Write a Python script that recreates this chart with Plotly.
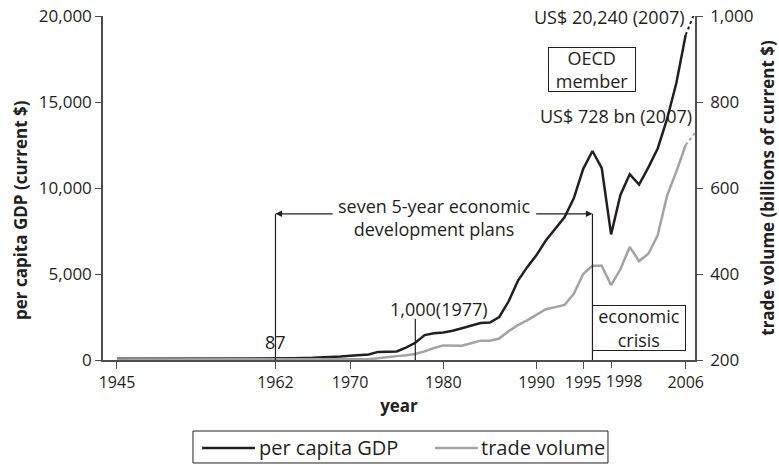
import plotly.graph_objects as go

# Per capita GDP (current $) and trade volume (billions of current $), 1945-2006
years = [1945, 1950, 1955, 1960, 1962, 1964, 1966, 1967, 1968, 1969,
         1970, 1971, 1972, 1973, 1974, 1975, 1976, 1977, 1978, 1979,
         1980, 1981, 1982, 1983, 1984, 1985, 1986, 1987, 1988, 1989,
         1990, 1991, 1992, 1993, 1994, 1995, 1996, 1997, 1998, 1999,
         2000, 2001, 2002, 2003, 2004, 2005, 2006]
gdp = [70, 70, 70, 80, 87, 100, 125, 140, 165, 200,
       250, 285, 320, 470, 490, 500, 720, 1000, 1450, 1550,
       1600, 1700, 1850, 2000, 2150, 2180, 2500, 3400, 4600, 5400,
       6100, 6950, 7600, 8300, 9400, 11100, 12150, 11150, 7300, 9600,
       10800, 10200, 11200, 12300, 14000, 16100, 18900]
trade = [201, 201, 201, 201, 201, 201, 201, 201, 201, 201,
         201, 201, 202, 204, 207, 209, 211, 214, 220, 228,
         234, 234, 233, 239, 245, 245, 250, 267, 281, 292,
         305, 318, 323, 328, 354, 400, 419, 419, 374, 411,
         463, 430, 447, 490, 582, 638, 700]

# 2007 values shown as dotted extensions
year_2007 = 2007
gdp_2007 = 20240
trade_2007 = 728

x_ticks = [1945, 1962, 1970, 1980, 1990, 1995, 1998, 2006]
gdp_ticks = [0, 5000, 10000, 15000, 20000]
trade_ticks = [200, 400, 600, 800, 1000]

gdp_name = "per capita GDP"
trade_name = "trade volume"

INK = "#231f20"
GREY = "#a3a3a3"
AXIS = "#4d4d4d"
FONT = "Open Sans"

plan_start, plan_end = 1962, 1996
plan_level = 8500

# the 1998 label sits on its own overlaid axis so it can be nudged clear of 1995
shifted_year = 1998
main_ticks = [t for t in x_ticks if t != shifted_year]

fig = go.Figure()

fig.add_trace(go.Scatter(x=years, y=trade, name=trade_name, xaxis="x2", yaxis="y2",
                         mode="lines", line=dict(color=GREY, width=2.5),
                         showlegend=False))
fig.add_trace(go.Scatter(x=[years[-1], year_2007], y=[trade[-1], trade_2007],
                         xaxis="x2", yaxis="y2", mode="lines",
                         line=dict(color=GREY, width=2, dash="dot"),
                         showlegend=False))
fig.add_trace(go.Scatter(x=years, y=gdp, name=gdp_name, mode="lines",
                         line=dict(color=INK, width=2.5), showlegend=False))
fig.add_trace(go.Scatter(x=[years[-1], year_2007], y=[gdp[-1], gdp_2007],
                         mode="lines", line=dict(color=INK, width=2, dash="dot"),
                         showlegend=False))

shapes = [
    dict(type="line", xref="x", yref="y", x0=plan_start, x1=plan_start,
         y0=0, y1=plan_level, line=dict(color=INK, width=1.2)),
    dict(type="line", xref="x", yref="y", x0=plan_end, x1=plan_end,
         y0=0, y1=plan_level, line=dict(color=INK, width=1.2)),
    dict(type="line", xref="x", yref="y", x0=1977, x1=1977,
         y0=0, y1=2400, line=dict(color=INK, width=1.2)),
]

# legend box drawn below the plot area
legend_y = -0.2558
shapes += [
    dict(type="rect", xref="paper", yref="paper", x0=0.152, x1=0.853,
         y0=-0.2994, y1=-0.2064, line=dict(color=INK, width=1)),
    dict(type="line", xref="paper", yref="paper", x0=0.1672, x1=0.2568,
         y0=legend_y, y1=legend_y, line=dict(color=INK, width=2.5)),
    dict(type="line", xref="paper", yref="paper", x0=0.5608, x1=0.6334,
         y0=legend_y, y1=legend_y, line=dict(color=GREY, width=2.5)),
]

tfont = dict(family=FONT, size=18, color=INK)
lfont = dict(family=FONT, size=20, color=INK)
title_font = dict(family=FONT, size=17, color=INK, weight="bold")

annotations = [
    dict(x=plan_start, y=plan_level, ax=1968.3, ay=plan_level, xref="x", yref="y",
         axref="x", ayref="y", text="", showarrow=True, arrowhead=2,
         arrowsize=1.1, arrowwidth=1.2, arrowcolor=INK),
    dict(x=plan_end, y=plan_level, ax=1989.8, ay=plan_level, xref="x", yref="y",
         axref="x", ayref="y", text="", showarrow=True, arrowhead=2,
         arrowsize=1.1, arrowwidth=1.2, arrowcolor=INK),
    dict(x=(plan_start + plan_end) / 2, y=8285, xref="x", yref="y",
         text="seven 5-year economic<br>development plans", showarrow=False,
         font=tfont, xanchor="center", yanchor="middle"),
    dict(x=1962, y=1050, xref="x", yref="y", text="87", showarrow=False,
         font=tfont, xanchor="center", yanchor="middle"),
    dict(x=1977, y=2965, xref="x", yref="y", text="1,000(1977)", showarrow=False,
         font=tfont, xanchor="center", yanchor="middle", xshift=24),
    dict(x=plan_end, y=1860, xref="x", yref="y", text="economic<br>crisis",
         showarrow=False, font=tfont, xanchor="left", yanchor="middle",
         bordercolor=INK, borderwidth=1, borderpad=1, width=90, height=42),
    dict(x=1996, y=16900, xref="x", yref="y", text="OECD<br>member",
         showarrow=False, font=tfont, xanchor="center", yanchor="middle",
         bordercolor=INK, borderwidth=1, borderpad=1, width=84, height=41),
    dict(x=year_2007, y=gdp_2007 / gdp_ticks[-1], xref="x", yref="y domain",
         text=f"US$ {gdp_2007:,} (2007)", showarrow=False, font=tfont,
         xanchor="right", yanchor="middle", xshift=-8, yshift=-5),
    dict(x=year_2007, y=trade_2007, xref="x", yref="y2",
         text=f"US$ {trade_2007} bn (2007)", showarrow=False, font=tfont,
         xanchor="right", yanchor="middle", xshift=-1, yshift=17),
    # left axis title, set a little below the axis midpoint
    dict(x=-0.1402, y=0.436, xref="paper", yref="paper",
         text="per capita GDP (current $)", textangle=-90, showarrow=False,
         font=title_font, xanchor="center", yanchor="middle"),
    dict(x=0.2601, y=legend_y, xref="paper", yref="paper", text=gdp_name,
         showarrow=False, font=lfont, xanchor="left", yanchor="middle"),
    dict(x=0.6351, y=legend_y, xref="paper", yref="paper", text=trade_name,
         showarrow=False, font=lfont, xanchor="left", yanchor="middle"),
]

x_tick_font = dict(family=FONT, size=16, color=INK)
y_tick_font = dict(family=FONT, size=17, color=INK)

x_common = dict(tickangle=0, ticks="outside", ticklen=7, tickcolor=AXIS,
                tickwidth=1.2, showgrid=False, zeroline=False,
                tickfont=x_tick_font, automargin=False)

fig.update_layout(
    width=779, height=464,
    margin=dict(l=103, r=84, t=16, b=104),
    paper_bgcolor="white", plot_bgcolor="white",
    font=dict(family=FONT, color=INK),
    showlegend=False,
    shapes=shapes,
    annotations=annotations,
    xaxis=dict(range=[1943.5, year_2007], tickvals=main_ticks,
               ticktext=[str(t) for t in main_ticks], showline=True,
               linecolor=AXIS, linewidth=1.5,
               title=dict(text="year", font=title_font, standoff=8), **x_common),
    xaxis2=dict(matches="x", overlaying="x", anchor="y2", side="bottom",
                tickvals=[shifted_year], ticktext=[str(shifted_year)],
                showline=False, ticklabelshift=13, **x_common),
    yaxis=dict(range=[0, 20000], tickvals=gdp_ticks, tickformat=",",
               ticks="outside", ticklen=6, tickcolor=AXIS, tickwidth=1.2,
               showline=True, linecolor=AXIS, linewidth=1.5, showgrid=False,
               zeroline=False, tickfont=y_tick_font, automargin=False),
    yaxis2=dict(range=[200, 1000], tickvals=trade_ticks, tickformat=",",
                overlaying="y", side="right", ticks="outside", ticklen=6,
                tickcolor=AXIS, tickwidth=1.2, showline=True, linecolor=AXIS,
                linewidth=1.5, showgrid=False, zeroline=False, automargin=False,
                tickfont=y_tick_font, ticklabelstandoff=4,
                title=dict(text="trade volume (billions of current $)",
                           font=title_font, standoff=10)),
)

fig.write_html("out.html")
